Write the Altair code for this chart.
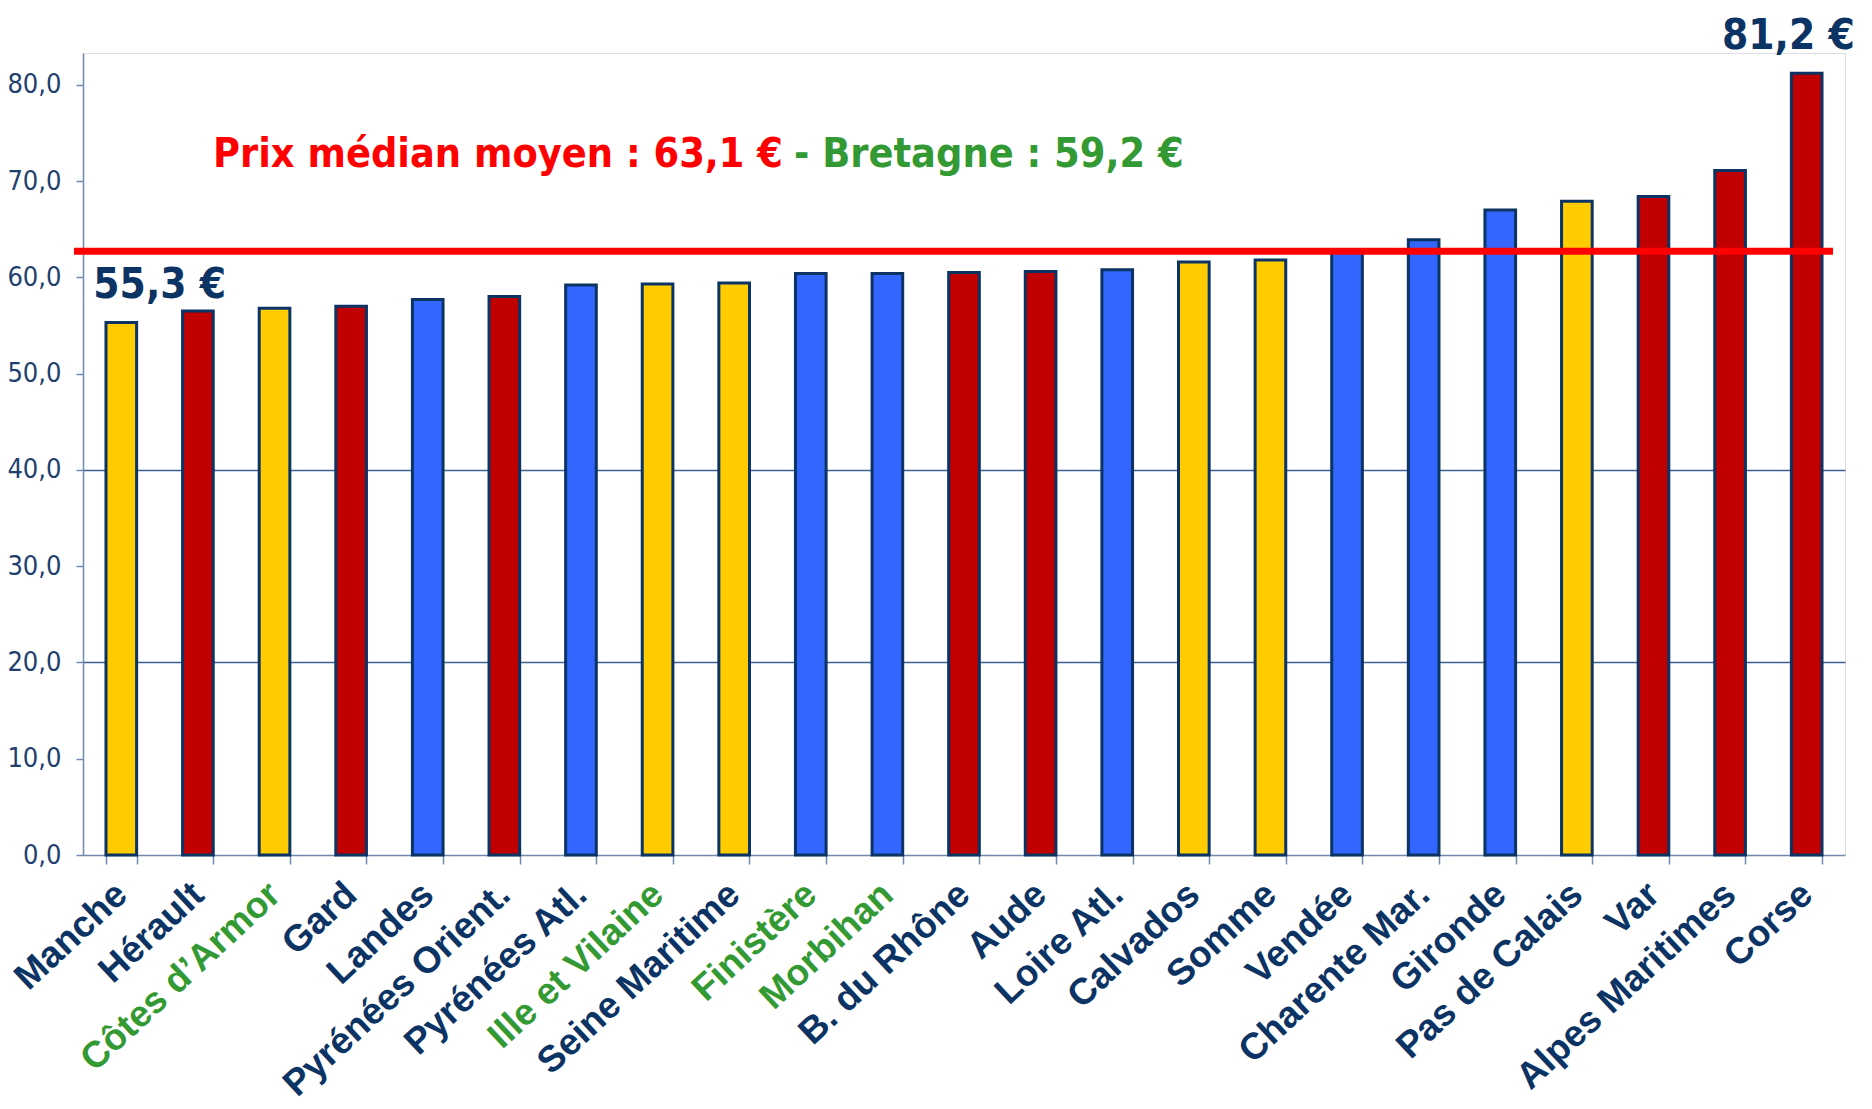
import altair as alt
import pandas as pd

# ---- data ----
departements = ["Manche", "Hérault", "Côtes d’Armor", "Gard", "Landes",
                "Pyrénées Orient.", "Pyrénées Atl.", "Ille et Vilaine",
                "Seine Maritime", "Finistère", "Morbihan", "B. du Rhône",
                "Aude", "Loire Atl.", "Calvados", "Somme", "Vendée",
                "Charente Mar.", "Gironde", "Pas de Calais", "Var",
                "Alpes Maritimes", "Corse"]
prix = [55.3, 56.5, 56.8, 57.0, 57.7, 58.0, 59.2, 59.3, 59.4, 60.4, 60.4,
        60.5, 60.6, 60.8, 61.6, 61.8, 62.6, 63.9, 67.0, 67.9, 68.4, 71.1, 81.2]
facade = ["Manche", "Méditerranée", "Manche", "Méditerranée", "Atlantique",
          "Méditerranée", "Atlantique", "Manche", "Manche", "Atlantique",
          "Atlantique", "Méditerranée", "Méditerranée", "Atlantique", "Manche",
          "Manche", "Atlantique", "Atlantique", "Atlantique", "Manche",
          "Méditerranée", "Méditerranée", "Méditerranée"]
bretagne = ["Côtes d’Armor", "Ille et Vilaine", "Finistère", "Morbihan"]
facades = ["Manche", "Atlantique", "Méditerranée"]
facade_colors = ["#FFCC00", "#3366FF", "#C00000"]
ligne_moyenne = 62.7
titre_rouge = "Prix médian moyen : 63,1 €"
titre_vert = "- Bretagne : 59,2 €"
y_ticks = [0, 10, 20, 30, 40, 50, 60, 70, 80]
grid_values = [20, 40]

NAVY = "#0B3363"
AXIS = "#7089AD"
GRID = "#3E6290"
RED = "#FF0000"
GREEN = "#339933"
NARROW = "'DejaVu Sans Condensed', 'Roboto Condensed', 'Arial Narrow', 'Noto Sans'"
BIG = 42
TITLE = 41

df = pd.DataFrame({"departement": departements, "prix": prix, "facade": facade})
df["label"] = df["prix"].map(lambda v: f"{v:.1f}".replace(".", ",") + " €")

W, H = 1762, 802

bret_list = ",".join('"' + b + '"' for b in bretagne)
grid_test = " || ".join(f"datum.value == {g}" for g in grid_values)

x_enc = alt.X(
    "departement:N", sort=departements,
    scale=alt.Scale(paddingInner=0.6, paddingOuter=0.3),
    axis=alt.Axis(
        title=None, labelAngle=-43, labelAlign="right", labelBaseline="middle",
        labelFont="Liberation Sans", labelFontWeight="bold", labelFontSize=37,
        labelColor={"condition": {"test": f"indexof([{bret_list}], datum.value) >= 0",
                                  "value": GREEN}, "value": NAVY},
        labelPadding=25, labelLimit=500, labelOverlap=False,
        tickBand="extent", tickSize=9, tickWidth=1.5, tickColor=AXIS,
        domainColor=AXIS, domainWidth=1.5, grid=False,
    ),
)
y_enc = alt.Y(
    "prix:Q", scale=alt.Scale(domain=[0, 83.3], nice=False, zero=True),
    axis=alt.Axis(
        title=None, values=y_ticks,
        labelExpr="replace(format(datum.value, '.1f'), '.', ',')",
        labelFont=NARROW, labelFontSize=27, labelColor="#1F3F6F",
        labelPadding=15, tickSize=7, tickWidth=1.5, tickColor=AXIS,
        domainColor=AXIS, domainWidth=1.5,
        grid=True, gridColor=GRID, gridWidth=1.5,
        gridOpacity={"condition": {"test": grid_test, "value": 1}, "value": 0},
    ),
)

bars = alt.Chart(df).mark_bar(stroke=NAVY, strokeWidth=3).encode(
    x=x_enc, y=y_enc,
    color=alt.Color("facade:N", scale=alt.Scale(domain=facades, range=facade_colors),
                    legend=None),
)

rule = alt.Chart(pd.DataFrame({"m": [ligne_moyenne]})).mark_rule(
    color=RED, strokeWidth=7
).encode(y=alt.Y("m:Q"), x=alt.value(-9), x2=alt.value(1750))

ann_min = alt.Chart(df.iloc[[0]]).mark_text(
    font=NARROW, fontWeight="bold", fontSize=BIG, color=NAVY,
    align="left", baseline="alphabetic", dx=-28, dy=-25,
).encode(x=alt.X("departement:N", sort=departements), y="prix:Q", text="label:N")

ann_max = alt.Chart(df.iloc[[-1]]).mark_text(
    font=NARROW, fontWeight="bold", fontSize=BIG, color=NAVY,
    align="right", baseline="alphabetic", dx=48, dy=-24,
).encode(x=alt.X("departement:N", sort=departements), y="prix:Q", text="label:N")

t_rouge = alt.Chart(pd.DataFrame({"t": [titre_rouge]})).mark_text(
    font=NARROW, fontWeight="bold", fontSize=TITLE, color=RED,
    align="right", baseline="alphabetic",
).encode(x=alt.value(700), y=alt.value(114), text="t:N")

t_vert = alt.Chart(pd.DataFrame({"t": [titre_vert]})).mark_text(
    font=NARROW, fontWeight="bold", fontSize=TITLE, color=GREEN,
    align="left", baseline="alphabetic",
).encode(x=alt.value(711), y=alt.value(114), text="t:N")

chart = alt.layer(bars, rule, ann_min, ann_max, t_rouge, t_vert).properties(
    width=W, height=H,
    autosize=alt.AutoSizeParams(type="none"),
    padding={"left": 75, "top": 45, "right": 10, "bottom": 270},
).configure_view(stroke=None).configure(background="white")

chart.save("out.html", embed_options={"renderer": "svg", "actions": False})
